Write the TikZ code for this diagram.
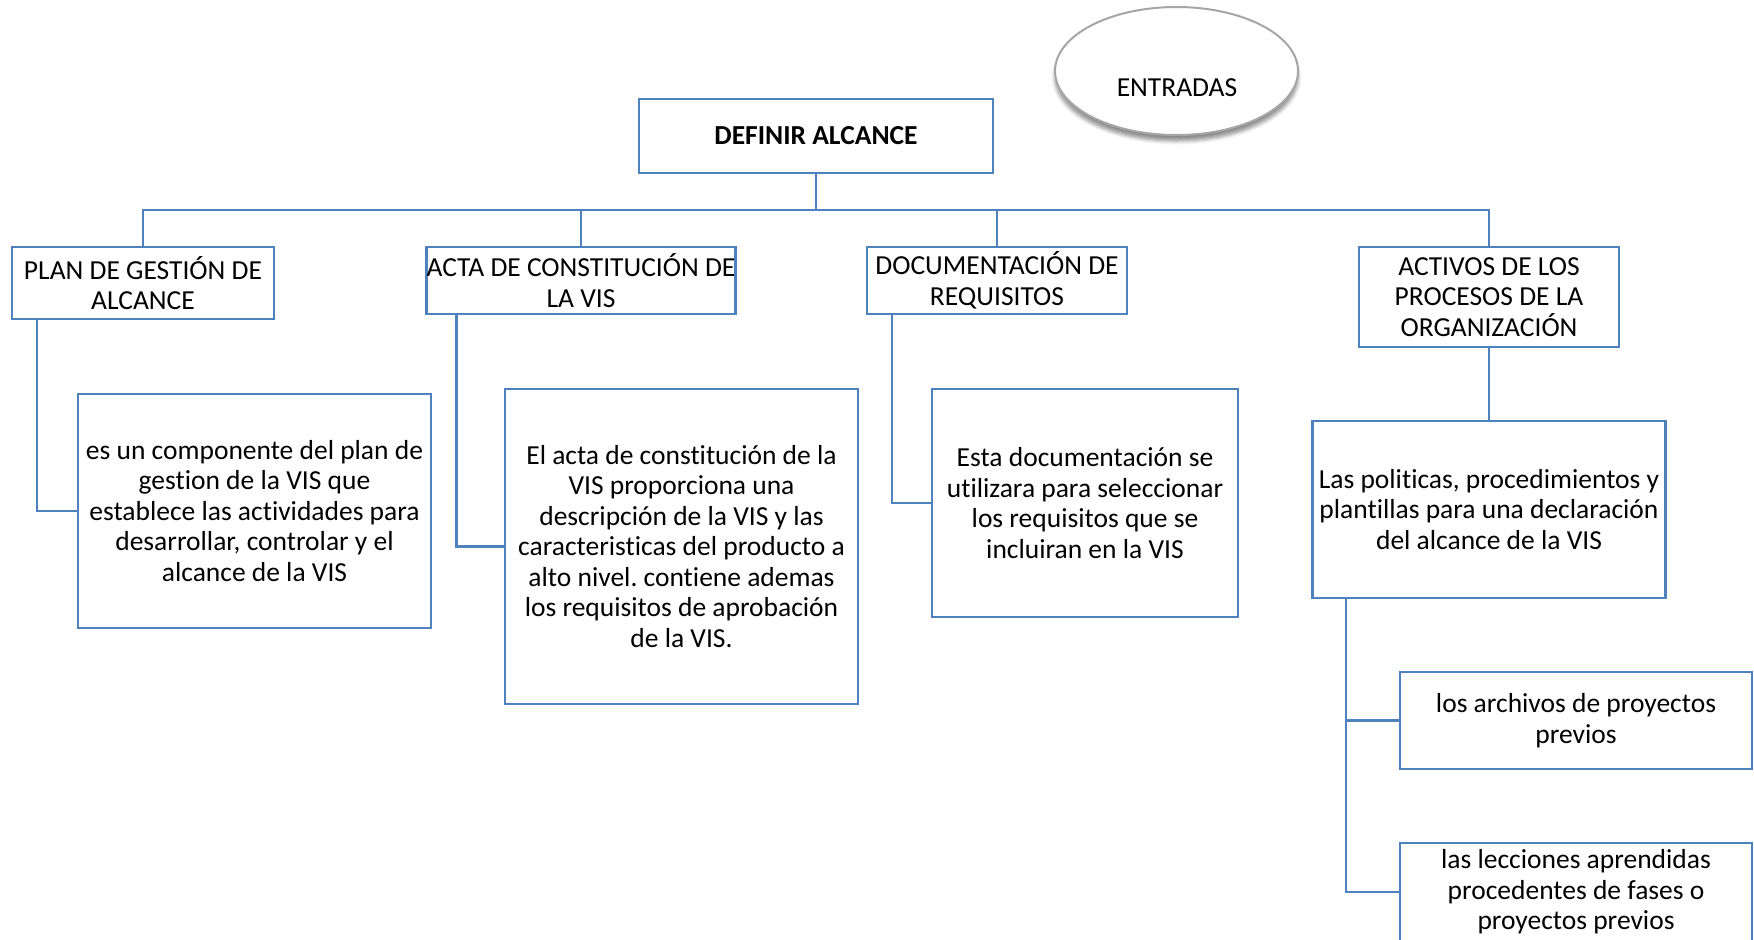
\documentclass[tikz,border=0pt]{standalone}
\usepackage{fontspec}
\setmainfont{Carlito}[Ligatures=NoCommon]
\usetikzlibrary{shapes.geometric,shadows.blur}
\definecolor{boxblue}{HTML}{4F81BD}
\definecolor{rimgray}{HTML}{A6A6A6}
\frenchspacing
\begin{document}
\begin{tikzpicture}[x=0.5pt,y=-0.5pt,
  every node/.style={font=\fontsize{13.75}{15.25}\selectfont, text=black},
  box/.style={draw=boxblue, line width=1.2pt, fill=white, align=center, inner sep=0pt},
  link/.style={draw=boxblue, line width=1.2pt}]
\useasboundingbox (0,0) rectangle (1754,939);
\begin{scope}
\clip (0,0) rectangle (1754,939);

% oval label
\node[ellipse, draw=rimgray, line width=1pt, fill=white,
      minimum width=121.5pt, minimum height=64pt,
      blur shadow={shadow xshift=0pt, shadow yshift=-3pt, shadow blur steps=6, shadow opacity=45}]
      (entr) at (1176.5,71) {};
\node (entrt) at (1177,88) {ENTRADAS};

% root
\node[box, minimum width=177pt, minimum height=37pt] (def) at (816,136)
  {\bfseries DEFINIR ALCANCE};

% inputs
\node[box, minimum width=131pt, minimum height=36pt] (plan) at (143,283)
  {PLAN DE GESTIÓN DE\\ALCANCE};
\node[box, minimum width=153pt, minimum height=33.5pt] (acta) at (581,280.5)
  {ACTA DE CONSTITUCIÓN DE\\LA VIS};
\node[box, minimum width=130pt, minimum height=33.5pt] (doc) at (997,280.5)
  {DOCUMENTACIÓN DE\\REQUISITOS};
\node[box, minimum width=130pt, minimum height=50pt] (act) at (1489,297)
  {ACTIVOS DE LOS\\PROCESOS DE LA\\ORGANIZACIÓN};

% descriptions
\node[box, minimum width=176.5pt, minimum height=117pt] (planD) at (254.5,511)
  {es un componente del plan de\\gestion de la VIS que\\establece las actividades para\\desarrollar, controlar y el\\alcance de la VIS};
\node[box, minimum width=176.5pt, minimum height=157.5pt] (actaD) at (681.5,546.5)
  {El acta de constitución de la\\VIS proporciona una\\descripción de la VIS y las\\caracteristicas del producto a\\alto nivel. contiene ademas\\los requisitos de aprobación\\de la VIS.};
\node[box, minimum width=153pt, minimum height=114pt] (docD) at (1085,503)
  {Esta documentación se\\utilizara para seleccionar\\los requisitos que se\\incluiran en la VIS};
\node[box, minimum width=176.5pt, minimum height=88.5pt] (actD) at (1489,509.5)
  {Las politicas, procedimientos y\\plantillas para una declaración\\del alcance de la VIS};
\node[box, minimum width=176pt, minimum height=48.5pt] (arch) at (1576,720.5)
  {los archivos de proyectos\\previos};
\node[box, minimum width=176pt, minimum height=49pt] (lecc) at (1576,892)
  {las lecciones aprendidas\\procedentes de fases o\\proyectos previos};

% tree connectors
\coordinate (bus) at (0,210);
\draw[link] (def.south) -- (def.south |- bus);
\draw[link] (plan.north) -- (plan.north |- bus) -- (act.north |- bus) -- (act.north);
\draw[link] (acta.north) -- (acta.north |- bus);
\draw[link] (doc.north) -- (doc.north |- bus);

\draw[link] ([xshift=13pt]plan.south west) |- (planD.west);
\draw[link] ([xshift=15.5pt]acta.south west) |- (actaD.west);
\draw[link] ([xshift=13pt]doc.south west) |- (docD.west);
\draw[link] (act.south) -- (actD.north);
\draw[link] ([xshift=17.25pt]actD.south west) |- (arch.west);
\draw[link] ([xshift=17.25pt]actD.south west) |- (lecc.west);
\end{scope}
\end{tikzpicture}
\end{document}
